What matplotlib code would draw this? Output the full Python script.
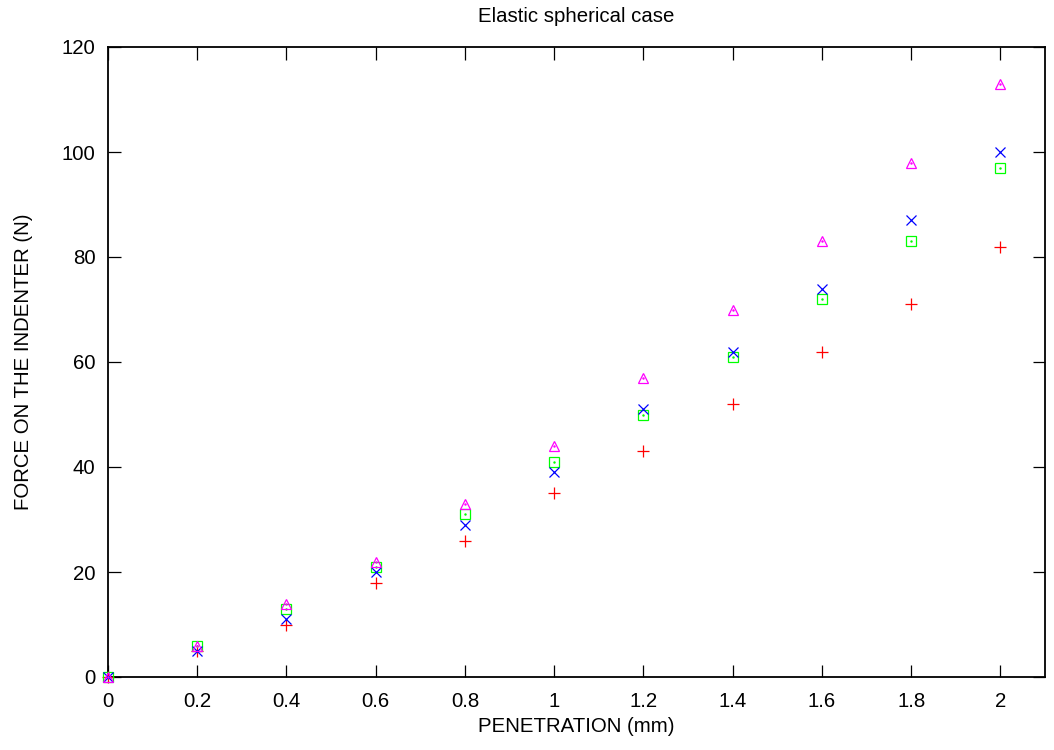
import matplotlib
matplotlib.use("Agg")
import matplotlib.pyplot as plt

plt.rcParams['font.family'] = ['Liberation Sans', 'DejaVu Sans']

penetration = [0.0, 0.2, 0.4, 0.6, 0.8, 1.0, 1.2, 1.4, 1.6, 1.8, 2.0]
force_red = [0, 5, 10, 18, 26, 35, 43, 52, 62, 71, 82]
force_green = [0, 6, 13, 21, 31, 41, 50, 61, 72, 83, 97]
force_blue = [0, 5, 11, 20, 29, 39, 51, 62, 74, 87, 100]
force_magenta = [0, 6, 14, 22, 33, 44, 57, 70, 83, 98, 113]

xticks = [0, 0.2, 0.4, 0.6, 0.8, 1, 1.2, 1.4, 1.6, 1.8, 2]
xticklabels = ['0', '0.2', '0.4', '0.6', '0.8', '1', '1.2', '1.4', '1.6', '1.8', '2']
yticks = [0, 20, 40, 60, 80, 100, 120]

FS = 14.7

fig = plt.figure(figsize=(10.54, 7.5), dpi=100)
ax = fig.add_axes([108/1054, 1 - 677/750, (1045-108)/1054, (677-47)/750])

common = dict(linestyle='none', clip_on=False, zorder=3)
ax.plot(penetration, force_red, marker='+', color='#ff0000',
        markersize=9, markeredgewidth=0.9, **common)
ax.plot(penetration, force_green, marker='s', color='#00ff00',
        markersize=7.5, markerfacecolor='none', markeredgewidth=0.9, **common)
ax.plot(penetration, force_green, marker='.', color='#00ff00',
        markersize=1.5, **common)
ax.plot(penetration, force_blue, marker='x', color='#0000ff',
        markersize=7.5, markeredgewidth=0.9, **common)
ax.plot(penetration, force_magenta, marker='^', color='#ff00ff',
        markersize=7.5, markerfacecolor='none', markeredgewidth=0.9, **common)
ax.plot(penetration, force_magenta, marker='.', color='#ff00ff',
        markersize=1.5, **common)

ax.set_xlim(0, 2.1)
ax.set_ylim(0, 120)
ax.set_xticks(xticks)
ax.set_xticklabels(xticklabels)
ax.set_yticks(yticks)
ax.tick_params(direction='in', length=9, width=0.9, top=True, right=True,
               labelsize=FS, colors='black')
ax.tick_params(axis='x', pad=11)
ax.tick_params(axis='y', pad=9)
for s in ax.spines.values():
    s.set_linewidth(1.3)

ax.set_xlabel('PENETRATION (mm)', fontsize=FS)
ax.xaxis.set_label_coords(0.5, (677 - 726) / 630)
ax.xaxis.label.set_va('center')
ax.set_ylabel('FORCE ON THE INDENTER (N)', fontsize=FS)
ax.yaxis.set_label_coords((24 - 108) / 937, 0.5)
ax.yaxis.label.set_va('center')
ax.set_title('Elastic spherical case', fontsize=FS, y=1 + (47 - 17) / 630,
             va='center', pad=0)

fig.savefig('out.png', dpi=100)
